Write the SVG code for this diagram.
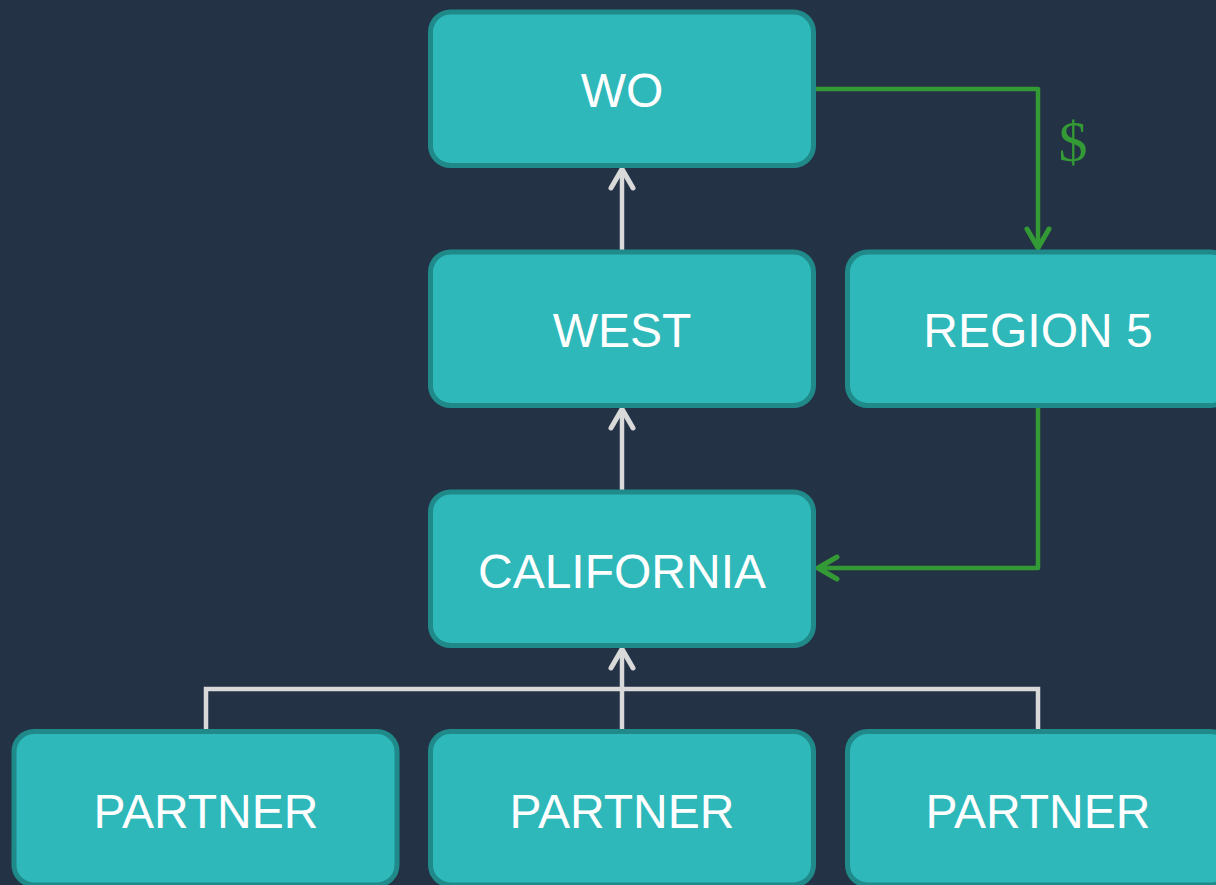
<svg xmlns="http://www.w3.org/2000/svg" width="1216" height="885" viewBox="0 0 1216 885">
<style>
.box{fill:#2eb8b9;stroke:#1f8a89;stroke-width:5}
.lbl{font-family:"Liberation Sans",Arial,sans-serif;font-size:48px;fill:#ffffff;text-anchor:middle}
.g{fill:none;stroke:#339a35;stroke-width:4.5;stroke-linejoin:round}
.w{fill:none;stroke:#d9d9d9;stroke-width:4.5;stroke-linejoin:miter}
</style>
<defs>
<marker id="ag" markerUnits="userSpaceOnUse" markerWidth="30" markerHeight="30" viewBox="-24 -15 30 30" refX="0" refY="0" orient="auto">
<path d="M-19,-11 L0,0 L-19,11" fill="none" stroke="#339a35" stroke-width="5" stroke-linecap="round" stroke-linejoin="round"/>
</marker>
<marker id="aw" markerUnits="userSpaceOnUse" markerWidth="30" markerHeight="30" viewBox="-24 -15 30 30" refX="0" refY="0" orient="auto">
<path d="M-19,-11 L0,0 L-19,11" fill="none" stroke="#d9d9d9" stroke-width="5" stroke-linecap="round" stroke-linejoin="round"/>
</marker>
</defs>
<rect width="1216" height="885" fill="#233245"/>
<g id="connectors">
<path class="g" d="M816,89 H1038 V248" marker-end="url(#ag)"/>
<text x="1073" y="161" font-family="Liberation Serif,serif" font-size="58" fill="#339a35" text-anchor="middle">$</text>
<path class="g" d="M1038,408 V568 H818" marker-end="url(#ag)"/>
<path class="w" d="M622,250 V169" marker-end="url(#aw)"/>
<path class="w" d="M622,490 V409" marker-end="url(#aw)"/>
<path class="w" d="M206,730 V689 H1038 V730"/>
<path class="w" d="M622,730 V649" marker-end="url(#aw)"/>
</g>
<g id="wo"><rect class="box" x="430.5" y="12" width="383" height="153.5" rx="20"/><text class="lbl" x="622" y="107">WO</text></g>
<g id="west"><rect class="box" x="430.5" y="252" width="383" height="153.5" rx="20"/><text class="lbl" x="622" y="347">WEST</text></g>
<g id="region5"><rect class="box" x="847.5" y="252" width="383" height="153.5" rx="20"/><text class="lbl" x="1038" y="347">REGION 5</text></g>
<g id="california"><rect class="box" x="430.5" y="492" width="383" height="153.5" rx="20"/><text class="lbl" x="622" y="588">CALIFORNIA</text></g>
<g id="partner1"><rect class="box" x="14" y="731.5" width="383" height="153.5" rx="20"/><text class="lbl" x="206" y="828">PARTNER</text></g>
<g id="partner2"><rect class="box" x="430.5" y="731.5" width="383" height="153.5" rx="20"/><text class="lbl" x="622" y="828">PARTNER</text></g>
<g id="partner3"><rect class="box" x="847.5" y="731.5" width="383" height="153.5" rx="20"/><text class="lbl" x="1038" y="828">PARTNER</text></g>
</svg>
